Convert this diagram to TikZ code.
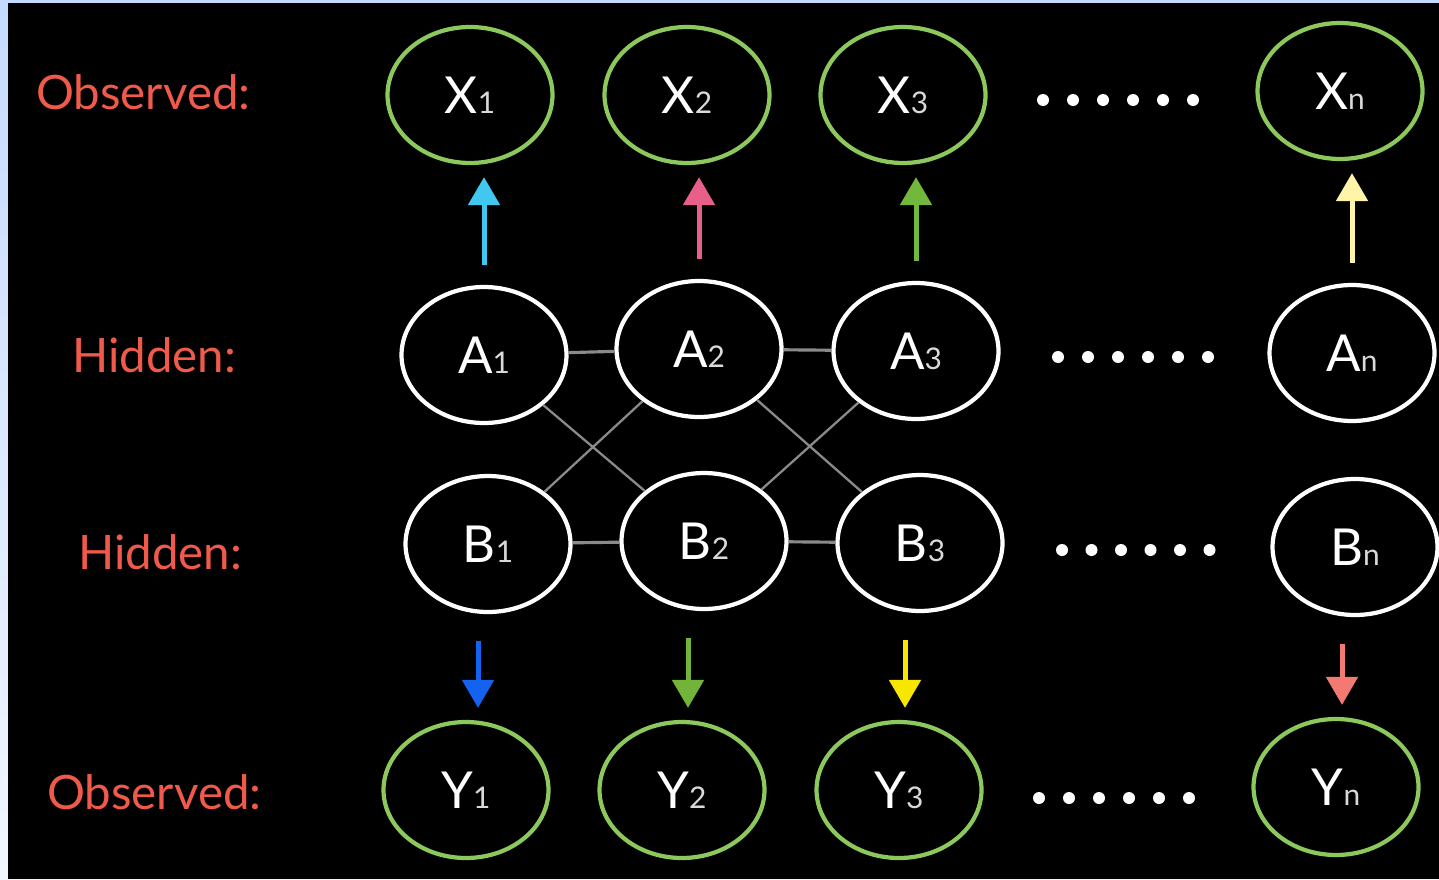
\documentclass[tikz,border=0pt]{standalone}
\usepackage{fontspec}
\setmainfont{Lato}
\usetikzlibrary{arrows.meta, shapes.geometric}
\definecolor{labelred}{HTML}{F05A4A}
\definecolor{ringgreen}{HTML}{8CC85C}
\definecolor{linkgray}{HTML}{8A8A8A}
\definecolor{edgeblue}{HTML}{C4DAFF}
\definecolor{edgepale}{HTML}{F2F6FF}
\definecolor{upcyan}{HTML}{40C8F0}
\definecolor{uppink}{HTML}{E8608A}
\definecolor{upgreen}{HTML}{72B83A}
\definecolor{upcream}{HTML}{FFF4A8}
\definecolor{downblue}{HTML}{1462F0}
\definecolor{downgreen}{HTML}{72B43A}
\definecolor{downyellow}{HTML}{F6E600}
\definecolor{downsalmon}{HTML}{F27A72}
\newcommand{\nodeidx}[1]{{\fontsize{17}{17}\selectfont\color{white!85!black}#1}}
\tikzset{
    obsnode/.style={ellipse, draw=ringgreen, line width=2.4pt, minimum width=3.3cm, minimum height=2.72cm, inner sep=0pt, text=white, font=\fontsize{29}{29}\selectfont\addfontfeatures{FakeBold=0}},
    hidnode/.style={obsnode, draw=white},
    rowlabel/.style={anchor=west, text=labelred, font=\fontsize{27}{27}\selectfont},
    link/.style={draw=linkgray, line width=1.3pt},
    uparrow/.style={-{Triangle[width=0.62cm, length=0.56cm]}, line width=0.1cm, shorten <=0.4cm, shorten >=0.24cm},
    downarrow/.style={-{Triangle[width=0.62cm, length=0.56cm]}, line width=0.1cm, shorten <=0.54cm, shorten >=0.24cm}
}
\begin{document}
\begin{tikzpicture}[x=0.02cm, y=-0.02cm]
    \useasboundingbox (0,0) rectangle (1439,879);
    \shade[top color=edgeblue, bottom color=edgepale] (0,0) rectangle (1439,879);
    \fill[black] (8,3) rectangle (1439,879);
    % row labels
    \node[rowlabel] (obstop) at (30,92) {Observed:};
    \node[rowlabel] (hidtop) at (66,355) {Hidden:};
    \node[rowlabel] (hidbot) at (72,552) {Hidden:};
    \node[rowlabel] (obsbot) at (41,792) {Observed:};
    % observed X
    \node[obsnode] (X1) at (470,95) {X\nodeidx{1}};
    \node[obsnode] (X2) at (687,95) {X\nodeidx{2}};
    \node[obsnode] (X3) at (903,95) {X\nodeidx{3}};
    \node[obsnode] (Xn) at (1340,91) {X\nodeidx{n}};
    % hidden A
    \node[hidnode] (A1) at (484,355) {A\nodeidx{1}};
    \node[hidnode] (A2) at (699,349) {A\nodeidx{2}};
    \node[hidnode] (A3) at (916,351) {A\nodeidx{3}};
    \node[hidnode] (An) at (1352,353) {A\nodeidx{n}};
    % hidden B
    \node[hidnode] (B1) at (488,544) {B\nodeidx{1}};
    \node[hidnode] (B2) at (704,541) {B\nodeidx{2}};
    \node[hidnode] (B3) at (920,543) {B\nodeidx{3}};
    \node[hidnode] (Bn) at (1355,547) {B\nodeidx{n}};
    % observed Y
    \node[obsnode] (Y1) at (466,790) {Y\nodeidx{1}};
    \node[obsnode] (Y2) at (682,790) {Y\nodeidx{2}};
    \node[obsnode] (Y3) at (899,790) {Y\nodeidx{3}};
    \node[obsnode] (Yn) at (1336,787) {Y\nodeidx{n}};
    % dots
    \foreach \k in {0,...,5} {
        \fill[white] (1043+\k*30,100) circle (0.12cm);
        \fill[white] (1058+\k*30,357) circle (0.12cm);
        \fill[white] (1062+\k*29.5,550) circle (0.12cm);
        \fill[white] (1039+\k*30,798) circle (0.12cm);
    }
    % links between hidden nodes
    \draw[link, line width=1.8pt] (A1) -- (A2);
    \draw[link, line width=1.8pt] (A2) -- (A3);
    \draw[link, line width=1.8pt] (B1) -- (B2);
    \draw[link, line width=1.8pt] (B2) -- (B3);
    \draw[link] (A1) -- (B2);
    \draw[link] (B1) -- (A2);
    \draw[link] (A2) -- (B3);
    \draw[link] (B2) -- (A3);
    % emissions
    \draw[uparrow, draw=upcyan, fill=upcyan] (A1.north) -- (A1.north |- X1.south);
    \draw[uparrow, draw=uppink, fill=uppink] (A2.north) -- (A2.north |- X2.south);
    \draw[uparrow, draw=upgreen, fill=upgreen] (A3.north) -- (A3.north |- X3.south);
    \draw[uparrow, draw=upcream, fill=upcream] (An.north) -- (An.north |- Xn.south);
    \draw[downarrow, draw=downblue, fill=downblue] ([xshift=-0.2cm]B1.south) -- ([xshift=-0.2cm]B1.south |- Y1.north);
    \draw[downarrow, draw=downgreen, fill=downgreen] ([xshift=-0.32cm]B2.south) -- ([xshift=-0.32cm]B2.south |- Y2.north);
    \draw[downarrow, draw=downyellow, fill=downyellow] ([xshift=-0.3cm]B3.south) -- ([xshift=-0.3cm]B3.south |- Y3.north);
    \draw[downarrow, draw=downsalmon, fill=downsalmon] ([xshift=-0.26cm]Bn.south) -- ([xshift=-0.26cm]Bn.south |- Yn.north);
\end{tikzpicture}
\end{document}
